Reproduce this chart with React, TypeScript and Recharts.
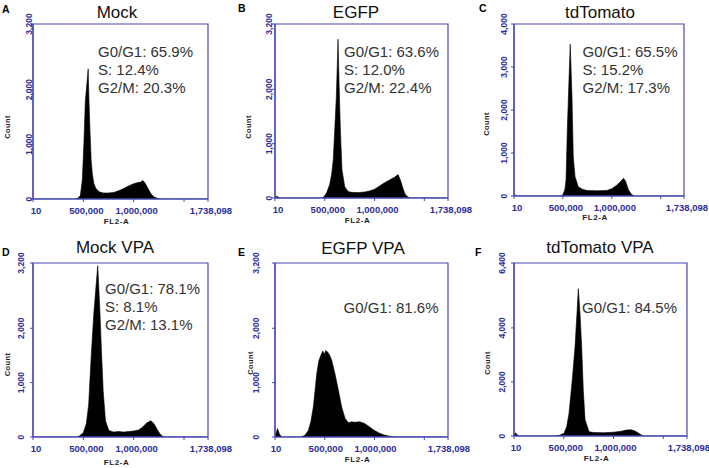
import { AreaChart, Area, XAxis, YAxis, ReferenceArea } from 'recharts';

// FL2-A channel value, cell count
const mockHist: [number, number][] = [
  [10, 0], [410000, 0], [440000, 10], [470000, 60], [490000, 350], [505000, 1000],
  [520000, 1800], [535000, 2100], [548000, 2380], [556000, 1800], [566000, 1250],
  [578000, 700], [590000, 450], [605000, 280], [625000, 190], [660000, 130],
  [700000, 110], [750000, 110], [800000, 120], [850000, 150], [900000, 190],
  [950000, 240], [1000000, 280], [1040000, 300], [1070000, 310], [1090000, 340],
  [1110000, 300], [1140000, 200], [1170000, 100], [1200000, 40], [1240000, 10],
  [1280000, 0], [1738098, 0],
];

const egfpHist: [number, number][] = [
  [10, 0], [12000, 30], [30000, 20], [50000, 0], [470000, 0], [490000, 20],
  [520000, 100], [550000, 250], [570000, 450], [585000, 700], [600000, 1250],
  [616000, 1850], [626000, 2450], [633000, 2920], [643000, 2150], [657000, 1250],
  [673000, 520], [700000, 210], [730000, 130], [750000, 110], [800000, 100],
  [850000, 100], [900000, 110], [950000, 130], [1000000, 160], [1050000, 220],
  [1100000, 280], [1150000, 330], [1200000, 380], [1236000, 430], [1260000, 330],
  [1290000, 150], [1310000, 60], [1340000, 15], [1360000, 0], [1738098, 0],
];

const tomatoHist: [number, number][] = [
  [10, 0], [15000, 20], [30000, 0], [480000, 0], [500000, 30], [520000, 150],
  [532000, 370], [545000, 1530], [562000, 2690], [575000, 3530], [593000, 2300],
  [606000, 910], [624000, 450], [657000, 215], [700000, 155], [750000, 130],
  [850000, 120], [950000, 130], [1000000, 170], [1050000, 250], [1090000, 340],
  [1120000, 410], [1140000, 350], [1169000, 150], [1200000, 40], [1230000, 0],
  [1738098, 0],
];

const mockVpaHist: [number, number][] = [
  [10, 0], [440000, 0], [460000, 20], [500000, 80], [530000, 250], [553000, 600],
  [577000, 1450], [603000, 2250], [627000, 2800], [643000, 3150], [663000, 2380],
  [680000, 1580], [697000, 850], [720000, 300], [753000, 120], [800000, 90],
  [850000, 100], [900000, 90], [950000, 100], [1000000, 110], [1050000, 130],
  [1087000, 180], [1130000, 260], [1170000, 300], [1200000, 250], [1230000, 150],
  [1260000, 60], [1290000, 10], [1310000, 0], [1738098, 0],
];

const egfpVpaHist: [number, number][] = [
  [10, 0], [10000, 60], [25000, 155], [45000, 50], [70000, 0], [260000, 0],
  [300000, 30], [335000, 120], [360000, 280], [385000, 550], [405000, 900],
  [419000, 1160], [440000, 1400], [460000, 1500], [480000, 1580], [495000, 1520],
  [510000, 1590], [530000, 1560], [550000, 1500], [570000, 1410], [603000, 1160],
  [637000, 860], [670000, 550], [704000, 340], [737000, 260], [770000, 280],
  [800000, 270], [850000, 280], [900000, 250], [940000, 200], [972000, 155],
  [1000000, 120], [1039000, 80], [1090000, 40], [1139000, 20], [1200000, 0],
  [1738098, 0],
];

const tomatoVpaHist: [number, number][] = [
  [10, 0], [10000, 120], [30000, 60], [50000, 0], [400000, 0], [450000, 20],
  [503000, 100], [530000, 350], [553000, 850], [586000, 2100], [613000, 3300],
  [633000, 4550], [646000, 5450], [663000, 4550], [680000, 3300], [696000, 1700],
  [714000, 600], [754000, 160], [800000, 130], [900000, 120], [1000000, 140],
  [1080000, 180], [1130000, 220], [1180000, 230], [1220000, 180], [1260000, 80],
  [1290000, 20], [1310000, 0], [1738098, 0],
];

const X_TICKS = [10, 500000, 1000000, 1500000, 1738098];
const Y_TICKS_3200 = [0, 1000, 2000, 3200];
const Y_TICKS_4000 = [0, 1000, 2000, 3000, 4000];
const Y_TICKS_6400 = [0, 2000, 4000, 6400];

const mockStats = ['G0/G1: 65.9%', 'S: 12.4%', 'G2/M: 20.3%'];
const egfpStats = ['G0/G1: 63.6%', 'S: 12.0%', 'G2/M: 22.4%'];
const tomatoStats = ['G0/G1: 65.5%', 'S: 15.2%', 'G2/M: 17.3%'];
const mockVpaStats = ['G0/G1: 78.1%', 'S: 8.1%', 'G2/M: 13.1%'];
const egfpVpaStats = ['G0/G1: 81.6%'];
const tomatoVpaStats = ['G0/G1: 84.5%'];

const FONT = '"Liberation Sans", Arial, sans-serif';
const AXIS_BLUE = '#4848b4';
const TICK_BLUE = '#2c2c9c';

const PANELS = [
  { letter: 'A', title: 'Mock', hist: mockHist, yMax: 3200, yTicks: Y_TICKS_3200, stats: mockStats,
    left: 0, top: 0, w: 236, h: 234, plot: { l: 33, r: 208, t: 24, b: 199 },
    yOff: 4, count: [10, 127], xlab: 22, titleAt: [117, 17.5], letterAt: [2, 13], statsAt: [98, 57], tx: 3 },
  { letter: 'B', title: 'EGFP', hist: egfpHist, yMax: 3200, yTicks: Y_TICKS_3200, stats: egfpStats,
    left: 236, top: 0, w: 236, h: 234, plot: { l: 39, r: 212, t: 24, b: 198 },
    yOff: 6, count: [14.5, 127], xlab: 22, titleAt: [120, 18], letterAt: [2, 12], statsAt: [108, 57], tx: 3 },
  { letter: 'C', title: 'tdTomato', hist: tomatoHist, yMax: 4000, yTicks: Y_TICKS_4000, stats: tomatoStats,
    left: 472, top: 0, w: 237, h: 234, plot: { l: 42, r: 212, t: 24, b: 196 },
    yOff: 10.5, count: [16.5, 124], xlab: 21, titleAt: [128, 18], letterAt: [7, 12], statsAt: [110.5, 57], tx: 3 },
  { letter: 'D', title: 'Mock VPA', hist: mockVpaHist, yMax: 3200, yTicks: Y_TICKS_3200, stats: mockVpaStats,
    left: 0, top: 234, w: 236, h: 234, plot: { l: 33, r: 208, t: 29, b: 203 },
    yOff: 12, count: [9.5, 130.5], xlab: 25, titleAt: [115, 19], letterAt: [2, 22], statsAt: [105, 59.5], tx: 3 },
  { letter: 'E', title: 'EGFP VPA', hist: egfpVpaHist, yMax: 3200, yTicks: Y_TICKS_3200, stats: egfpVpaStats,
    left: 236, top: 234, w: 236, h: 234, plot: { l: 39, r: 212, t: 29, b: 203 },
    yOff: 19, count: [16.5, 129], xlab: 22, titleAt: [127, 20], letterAt: [2, 22], statsAt: [107.5, 79], tx: 1 },
  { letter: 'F', title: 'tdTomato VPA', hist: tomatoVpaHist, yMax: 6400, yTicks: Y_TICKS_6400, stats: tomatoVpaStats,
    left: 472, top: 234, w: 237, h: 234, plot: { l: 42, r: 215, t: 29, b: 202 },
    yOff: 12, count: [17.5, 129], xlab: 22, titleAt: [128, 19], letterAt: [3, 22], statsAt: [110, 78.5], tx: 2 },
];

const fmt = (v: number) => v.toLocaleString('en-US');

function Panel({ p }: { p: any }) {
  const data = p.hist.map(([x, c]: [number, number]) => ({ fl2: x, count: c }));
  const { l, r, t, b } = p.plot;

  const xTick = ({ x, y, payload }: any) => (
    <text x={x + p.tx} y={y + 12} textAnchor="middle" fontSize={9.5} fontWeight="bold"
      fill={TICK_BLUE} fontFamily={FONT}>
      {payload.value === 1500000 ? '' : fmt(payload.value)}
    </text>
  );

  const yTick = ({ x, y, payload }: any) => {
    const bx = x + 3 - p.yOff + 3;
    return (
      <text x={bx} y={y} transform={`rotate(-90 ${bx} ${y})`} textAnchor="middle"
        fontSize={8.5} fontWeight="bold" fill={TICK_BLUE} fontFamily={FONT}>
        {fmt(payload.value)}
      </text>
    );
  };

  return (
    <div style={{ position: 'absolute', left: p.left, top: p.top, width: p.w, height: p.h }}>
      <AreaChart width={p.w} height={p.h} data={data}
        margin={{ top: t, right: p.w - r, left: 0, bottom: 0 }}>
        <XAxis dataKey="fl2" type="number" domain={[10, 1738098]} ticks={X_TICKS} interval={0}
          height={p.h - b} tickSize={3} tickMargin={0} tick={xTick}
          axisLine={{ stroke: AXIS_BLUE, strokeWidth: 1.2 }} tickLine={{ stroke: AXIS_BLUE }}
          allowDataOverflow
          label={{
            content: ({ viewBox }: any) => (
              <text x={viewBox.x + viewBox.width / 2 - 4} y={viewBox.y + p.xlab + 3}
                textAnchor="middle" fontSize={8} fontWeight="bold" fill="#222"
                fontFamily={FONT} letterSpacing={0.6}>FL2-A</text>
            ),
          }} />
        <YAxis type="number" domain={[0, p.yMax]} ticks={p.yTicks} interval={0} width={l}
          tickSize={3} tickMargin={0} tick={yTick}
          axisLine={{ stroke: AXIS_BLUE, strokeWidth: 1.2 }} tickLine={{ stroke: AXIS_BLUE }}
          allowDataOverflow
          label={{
            content: () => (
              <text x={p.count[0]} y={p.count[1]} transform={`rotate(-90 ${p.count[0]} ${p.count[1]})`}
                textAnchor="middle" fontSize={7.5} fontWeight="bold" fill="#222"
                fontFamily={FONT} letterSpacing={0.4}>Count</text>
            ),
          }} />
        <Area dataKey="count" type="linear" stroke="#000" strokeWidth={0.6} fill="#000"
          fillOpacity={1} dot={false} activeDot={false} isAnimationActive={false} />
        <ReferenceArea x1={10} x2={1738098} y1={0} y2={p.yMax} fill="none" fillOpacity={0}
          stroke={AXIS_BLUE} strokeWidth={1.2} ifOverflow="visible" />
      </AreaChart>
      <svg width={p.w} height={p.h} style={{ position: 'absolute', left: 0, top: 0, pointerEvents: 'none' }}>
        <text x={p.letterAt[0]} y={p.letterAt[1]} fontSize={10.5} fontWeight="bold" fill="#000"
          fontFamily={FONT}>{p.letter}</text>
        <text x={p.titleAt[0]} y={p.titleAt[1]} fontSize={17} textAnchor="middle" fill="#111"
          fontFamily={FONT}>{p.title}</text>
        {p.stats.map((s: string, i: number) => (
          <text key={s} x={p.statsAt[0]} y={p.statsAt[1] + i * 18} fontSize={15} fill="#333"
            fontFamily={FONT}>{s}</text>
        ))}
      </svg>
    </div>
  );
}

export default function App() {
  return (
    <div style={{ position: 'absolute', left: 0, top: 0, width: 709, height: 468, background: '#fff' }}>
      {PANELS.map((p) => (
        <Panel key={p.letter} p={p} />
      ))}
    </div>
  );
}
